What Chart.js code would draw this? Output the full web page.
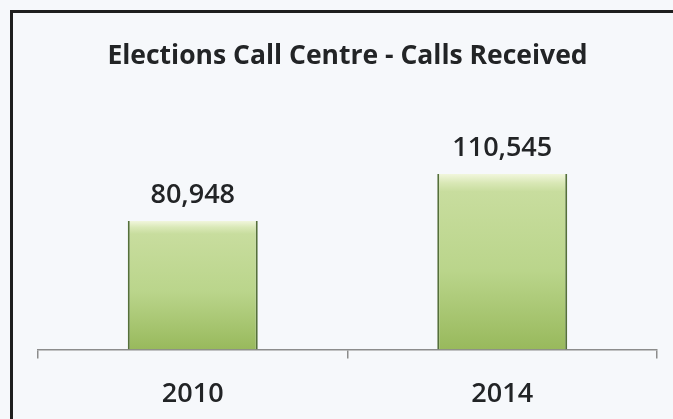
<!DOCTYPE html>
<html>
<head>
<meta charset="utf-8">
<script src="https://cdn.jsdelivr.net/npm/chart.js@4"></script>
<style>
  html, body { margin: 0; padding: 0; background: #f6f8fb; }
  #wrap { position: relative; width: 673px; height: 419px; overflow: hidden; }
  #frame {
    position: absolute; left: 10px; top: 10px; width: 700px; height: 450px;
    border-left: 3px solid #1e1e1e; border-top: 3px solid #1e1e1e;
  }
  canvas { position: absolute; left: 0; top: 0; }
</style>
</head>
<body>
<div id="wrap">
  <div id="frame"></div>
  <canvas id="callsChart" width="673" height="419"></canvas>
</div>
<script>
const chartTitle = "Elections Call Centre - Calls Received";
const years = ["2010", "2014"];
const callsReceived = [80948, 110545];

// green bar, lighter at the top of each bar
function barGradient(context) {
  const chart = context.chart;
  if (!chart.chartArea || context.raw == null) return "#b5d07f";
  const yScale = chart.scales.y;
  const top = yScale.getPixelForValue(context.raw);
  const bottom = yScale.getPixelForValue(0);
  const g = chart.ctx.createLinearGradient(0, top, 0, bottom);
  g.addColorStop(0, "#f1f6dc");
  g.addColorStop(0.05, "#d9e8b6");
  g.addColorStop(0.1, "#c8dd9e");
  g.addColorStop(0.55, "#bad58b");
  g.addColorStop(1, "#98b95c");
  return g;
}

// numbers above the bars
const valueLabels = {
  id: "valueLabels",
  afterDatasetsDraw(chart) {
    const ctx = chart.ctx;
    const meta = chart.getDatasetMeta(0);
    ctx.save();
    ctx.font = "600 27px 'Open Sans'";
    ctx.fillStyle = "#222426";
    ctx.textAlign = "center";
    ctx.textBaseline = "middle";
    meta.data.forEach((bar, i) => {
      ctx.fillText(callsReceived[i].toLocaleString("en-US"), bar.x, bar.y - 26);
    });
    ctx.restore();
  },
};

const ctx = document.getElementById("callsChart").getContext("2d");
new Chart(ctx, {
  type: "bar",
  data: {
    labels: years,
    datasets: [
      {
        data: callsReceived,
        backgroundColor: barGradient,
        borderColor: "#55703a",
        borderWidth: { left: 2, right: 2, top: 0, bottom: 0 },
        borderSkipped: false,
        categoryPercentage: 1,
        barPercentage: 0.42,
      },
    ],
  },
  options: {
    responsive: false,
    animation: false,
    layout: { padding: { left: 38, right: 16, top: 0, bottom: 9 } },
    plugins: {
      legend: { display: false },
      tooltip: { enabled: false },
      title: {
        display: true,
        text: chartTitle,
        color: "#222426",
        font: { family: "'Open Sans'", size: 26.5, weight: "bold", lineHeight: 1.2 },
        padding: { top: 41, bottom: 54.5 },
      },
    },
    scales: {
      x: {
        afterFit(scale) {
          scale.height -= 21;
        },
        grid: {
          display: true,
          drawOnChartArea: false,
          drawTicks: true,
          tickLength: 9,
          color: "#8c8c8c",
          lineWidth: 1.5,
        },
        border: { display: true, color: "#8c8c8c", width: 1.5 },
        ticks: {
          color: "#222426",
          padding: 20,
          font: { family: "'Open Sans'", size: 27, weight: "600" },
        },
      },
      y: {
        display: false,
        min: 0,
        max: 140000,
      },
    },
  },
  plugins: [valueLabels],
});
</script>
</body>
</html>
